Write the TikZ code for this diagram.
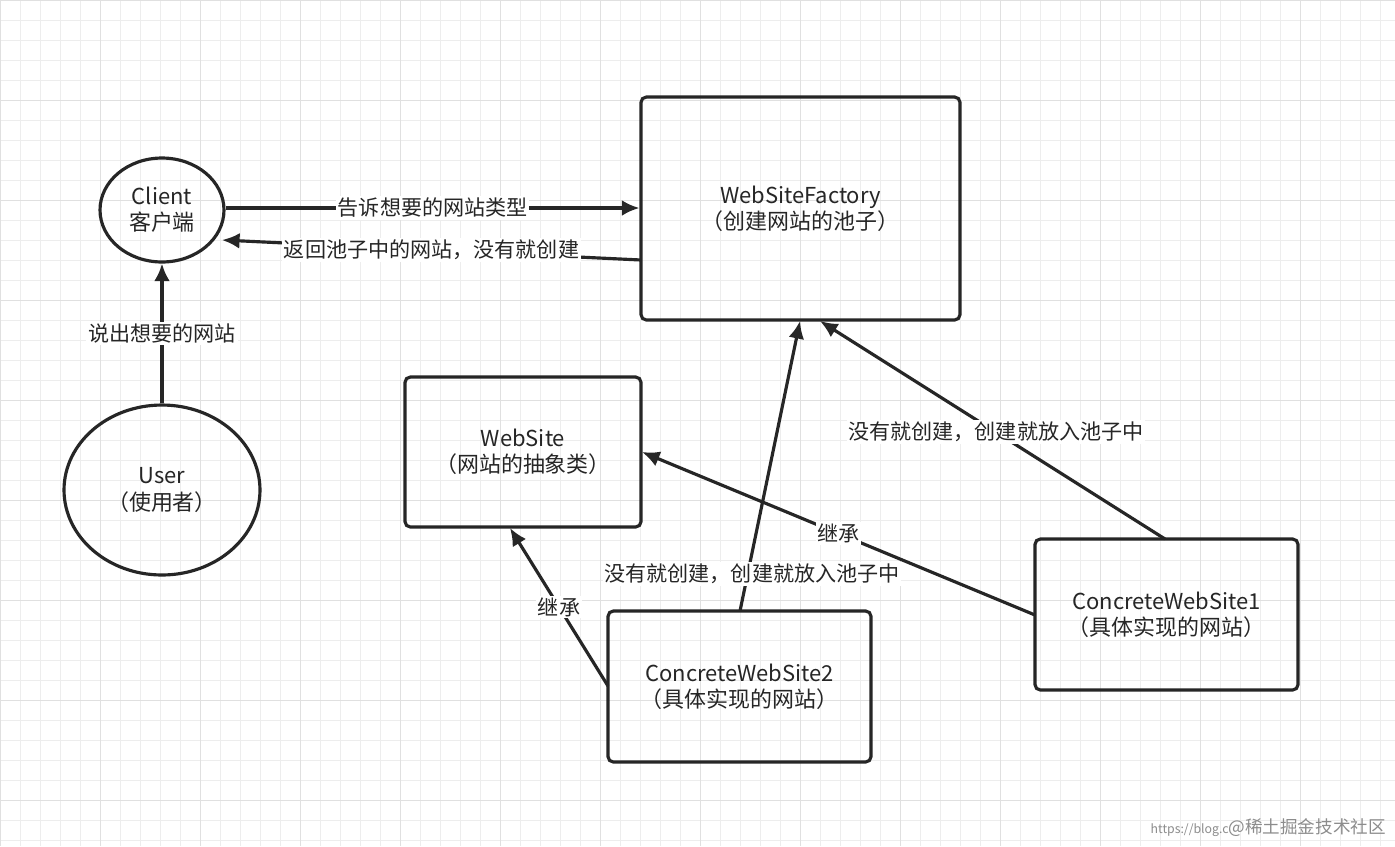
\documentclass[tikz,border=0pt]{standalone}
\usepackage{fontspec}
\setmainfont{Noto Sans CJK SC}
\usetikzlibrary{arrows.meta,shapes.geometric}
\begin{document}
\begin{tikzpicture}[x=0.02cm,y=-0.02cm,
  box/.style={draw=black!85,line width=1.8pt,rounded corners=3pt,align=center,font=\fontsize{12.5pt}{15pt}\selectfont,text=black!85},
  circ/.style={draw=black!85,line width=1.8pt,ellipse,align=center,font=\fontsize{12.5pt}{15pt}\selectfont,text=black!85},
  arr/.style={draw=black!85,line width=1.8pt,-{Latex[length=10pt,width=9pt]}},
  lab/.style={fill=white,inner sep=1pt,font=\fontsize{12pt}{14pt}\selectfont,text=black!85}]
\useasboundingbox (0,0) rectangle (1395,846);
\fill[white] (0,0) rectangle (1395,846);
\foreach \i in {0,...,70} {\draw[black!7,line width=0.3pt] (\i*20,0) -- (\i*20,846);}
\foreach \j in {0,...,43} {\draw[black!7,line width=0.3pt] (0,\j*20) -- (1395,\j*20);}
\foreach \i in {0,...,14} {\draw[black!12,line width=0.5pt] (\i*100,0) -- (\i*100,846);}
\foreach \j in {0,...,9} {\draw[black!12,line width=0.5pt] (0,\j*100) -- (1395,\j*100);}
\node[circ,minimum width=2.48cm,minimum height=2.08cm,inner sep=0pt] (client) at (162,210) {Client\\客户端};
\node[circ,minimum width=3.92cm,minimum height=3.4cm,inner sep=0pt] (user) at (162,490) {User\\（使用者）};
\node[box,minimum width=6.38cm,minimum height=4.46cm] (fac) at (800.5,208.5) {WebSiteFactory\\（创建网站的池子）};
\node[box,minimum width=4.72cm,minimum height=3cm] (ws) at (523,452) {WebSite\\（网站的抽象类）};
\node[box,minimum width=5.26cm,minimum height=3.02cm] (c2) at (739.5,686.5) {ConcreteWebSite2\\（具体实现的网站）};
\node[box,minimum width=5.26cm,minimum height=3.02cm] (c1) at (1166.5,614.5) {ConcreteWebSite1\\（具体实现的网站）};
\coordinate (a1) at (226,208); \coordinate (a2) at (fac.west|-a1);
\draw[arr] (a1) -- node[lab]{告诉想要的网站类型} (a2);
\coordinate (b1) at (641,260); \coordinate (b2) at (222,240);
\draw[arr] (b1) -- node[lab,pos=0.5]{返回池子中的网站，没有就创建} (b2);
\draw[arr] (user) -- node[lab]{说出想要的网站} (client);
\coordinate (d1) at (608,686); \coordinate (d2) at (510,528);
\draw[arr] (d1) -- node[lab,pos=0.5]{继承} (d2);
\coordinate (e1) at (740,611); \coordinate (e2) at (800,321);
\draw[arr] (e1) -- (e2);
\node[lab] at (752,574) {没有就创建，创建就放入池子中};
\coordinate (f1) at (1035,615); \coordinate (f2) at (642,452);
\draw[arr] (f1) -- node[lab,pos=0.5]{继承} (f2);
\coordinate (g1) at (1165,539); \coordinate (g2) at (820,321);
\draw[arr] (g1) -- node[lab,pos=0.49]{没有就创建，创建就放入池子中} (g2);
\node[anchor=east,text=black!45,font=\fontsize{10pt}{12pt}\selectfont] at (1392,828) {{\fontsize{7pt}{8pt}\selectfont https://blog.c}@稀土掘金技术社区};
\end{tikzpicture}
\end{document}
